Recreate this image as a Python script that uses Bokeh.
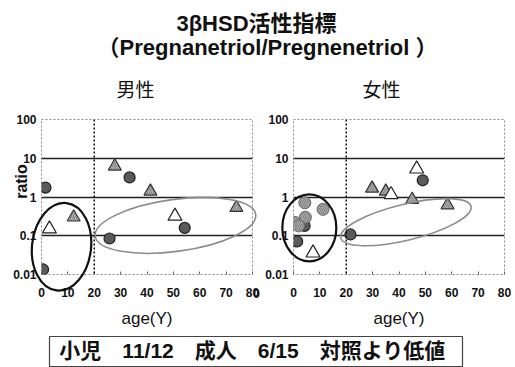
import math
from bokeh.plotting import figure
from bokeh.layouts import column, row
from bokeh.models import Label, Span, FixedTicker
from bokeh.core.properties import value
from bokeh.embed import file_html
from bokeh.resources import INLINE

# ---------------- texts ----------------
title_line1 = "3βHSD活性指標"
title_line2 = "（Pregnanetriol/Pregnenetriol ）"
panel_titles = ["男性", "女性"]
x_label = "age(Y)"
y_label = "ratio"
footer_text = "小児　11/12　成人　6/15　対照より低値"

# ---------------- axes ----------------
x_ticks = [0, 10, 20, 30, 40, 50, 60, 70, 80]
y_ticks = [0.01, 0.1, 1, 10, 100]
y_tick_labels = ["0.01", "0.1", "1", "10", "100"]
ref_lines = [0.1, 1, 10]
age_cut = 20
X_MIN, X_MAX = 0, 80
Y_MIN, Y_MAX = 0.01, 100

# ---------------- male data ----------------
male_dark_circle_age = [1.5, 0.6, 25.8, 33.4, 54.3]
male_dark_circle_ratio = [1.75, 0.0135, 0.085, 3.2, 0.16]
male_gray_circle_age = []
male_gray_circle_ratio = []
male_gray_tri_age = [12.2, 27.8, 41.3, 73.9]
male_gray_tri_ratio = [0.30, 6.2, 1.4, 0.53]
male_white_tri_age = [3.0, 50.6]
male_white_tri_ratio = [0.15, 0.32]

# ---------------- female data ----------------
female_dark_circle_age = [4.2, 1.4, 21.6, 49.0]
female_dark_circle_ratio = [0.18, 0.071, 0.108, 2.7]
female_gray_circle_age = [4.3, 11.2, 4.5, 0.6, 1.9]
female_gray_circle_ratio = [0.71, 0.48, 0.30, 0.22, 0.18]
female_gray_tri_age = [29.8, 35.0, 45.0, 58.4]
female_gray_tri_ratio = [1.67, 1.4, 0.86, 0.62]
female_white_tri_age = [7.4, 37.0, 46.7]
female_white_tri_ratio = [0.036, 1.15, 5.3]

# group ellipses: center age, center ratio
male_child_group = (7.6, 0.052)
male_adult_group = (50.8, 0.185)
female_child_group = (6.0, 0.16)
female_adult_group = (42.6, 0.224)

LATIN = "Liberation Sans"
MIXED = "Liberation Sans, Noto Sans CJK JP"


def text_label(x, y, text, font, size, style="normal", angle=0.0):
    return Label(x=x, y=y, x_units="canvas", y_units="canvas", text=text,
                 angle=angle, text_align="center", text_baseline="middle",
                 text_font=font, text_font_style=style, text_font_size=size,
                 text_color="#111", level="overlay")


def corner_text(p, ax, ay, dx, dy, text, font, size, style="normal", angle=0.0):
    # text anchored at a frame corner, shifted by pixel offsets (drawn unclipped)
    p.text(x=[ax], y=[ay], text=[text], x_offset=dx, y_offset=dy, angle=angle,
           text_align="center", text_baseline="middle",
           text_font=value(font), text_font_style=style, text_font_size=size,
           text_color="#111", level="overlay")


def make_panel(title, width, b_left, b_right, dark, gray_c, gray_t, white_t,
               child, adult, child_shape, adult_shape, title_dx):
    p = figure(width=width, height=255, x_range=(X_MIN, X_MAX), y_range=(Y_MIN, Y_MAX),
               y_axis_type="log", output_backend="svg", toolbar_location=None,
               min_border_left=b_left, min_border_right=b_right,
               min_border_top=44, min_border_bottom=52)
    p.background_fill_color = "white"
    p.border_fill_color = "white"
    p.outline_line_color = "#8a8a8a"
    p.outline_line_dash = "2 2"
    p.outline_line_width = 1

    p.xaxis.ticker = FixedTicker(ticks=x_ticks)
    p.yaxis.ticker = FixedTicker(ticks=y_ticks)
    p.yaxis.major_label_overrides = dict(zip(y_ticks, y_tick_labels))
    for ax in (p.xaxis[0], p.yaxis[0]):
        ax.axis_line_color = None
        ax.minor_tick_line_color = None
        ax.major_label_text_font = LATIN
        ax.major_label_text_font_style = "bold"
        ax.major_label_text_font_size = "12px"
        ax.major_label_text_color = "#111"
    p.xaxis.major_tick_in = 3
    p.xaxis.major_tick_out = 0
    p.xaxis.major_tick_line_color = "#666"
    p.xaxis.major_label_standoff = 13
    p.yaxis.major_tick_in = 0
    p.yaxis.major_tick_out = 0
    p.yaxis.major_label_standoff = 5
    p.xaxis.axis_label = x_label
    p.xaxis.axis_label_text_font = LATIN
    p.xaxis.axis_label_text_font_style = "normal"
    p.xaxis.axis_label_text_font_size = "17px"
    p.xaxis.axis_label_text_color = "#111"
    p.xaxis.axis_label_standoff = 9

    p.xgrid.visible = False
    p.ygrid.ticker = FixedTicker(ticks=ref_lines)
    p.ygrid.grid_line_color = "#222"
    p.ygrid.grid_line_width = 1.3

    p.add_layout(Span(location=age_cut, dimension="height", line_color="#111",
                      line_dash="2 2", line_width=1.5))

    # markers
    if dark[0]:
        p.scatter(x=dark[0], y=dark[1], marker="circle", size=11,
                  fill_color="#5a5a5a", line_color="#222", line_width=1.2)
    if gray_c[0]:
        p.scatter(x=gray_c[0], y=gray_c[1], marker="circle", size=12,
                  fill_color="#a8a8a8", line_color="#666", line_width=1,
                  hatch_pattern="right_diagonal_line", hatch_color="#777",
                  hatch_scale=4, hatch_weight=0.8)
    if gray_t[0]:
        p.scatter(x=gray_t[0], y=gray_t[1], marker="triangle", size=13,
                  fill_color="#b0b0b0", line_color="#333", line_width=1.2,
                  hatch_pattern="right_diagonal_line", hatch_color="#777",
                  hatch_scale=4, hatch_weight=0.8)
    if white_t[0]:
        p.scatter(x=white_t[0], y=white_t[1], marker="triangle", size=14,
                  fill_color="white", line_color="#222", line_width=1.2)

    # group ellipses (screen-sized)
    p.ellipse(x=[child[0]], y=[child[1]], width=child_shape[0], height=child_shape[1],
              angle=math.radians(child_shape[2]), width_units="screen",
              height_units="screen", fill_alpha=0, line_color="#111",
              line_width=2.2, level="overlay")
    p.ellipse(x=[adult[0]], y=[adult[1]], width=adult_shape[0], height=adult_shape[1],
              angle=math.radians(adult_shape[2]), width_units="screen",
              height_units="screen", fill_alpha=0, line_color="#8c8c8c",
              line_width=1.6, level="overlay")

    corner_text(p, X_MIN, Y_MAX, title_dx, -31, title, "Noto Sans CJK JP", "19px")
    return p


left = make_panel(panel_titles[0], 262, 41, 10,
                  (male_dark_circle_age, male_dark_circle_ratio),
                  (male_gray_circle_age, male_gray_circle_ratio),
                  (male_gray_tri_age, male_gray_tri_ratio),
                  (male_white_tri_age, male_white_tri_ratio),
                  male_child_group, male_adult_group,
                  (59, 88, -6.5), (162, 52, 7.7), 94)
corner_text(left, X_MIN, Y_MAX, -20, 62, y_label, LATIN, "16px", "bold", math.pi / 2)
corner_text(left, X_MAX, Y_MIN, 4, 19, "0", LATIN, "12px", "bold")

right = make_panel(panel_titles[1], 253, 30, 11,
                   (female_dark_circle_age, female_dark_circle_ratio),
                   (female_gray_circle_age, female_gray_circle_ratio),
                   (female_gray_tri_age, female_gray_tri_ratio),
                   (female_white_tri_age, female_white_tri_ratio),
                   female_child_group, female_adult_group,
                   (54, 67, 0), (134, 36, 13.6), 88)

# header
hdr = figure(width=515, height=75, x_range=(0, 1), y_range=(0, 1),
             x_axis_location=None, y_axis_location=None, output_backend="svg",
             toolbar_location=None, min_border=0)
hdr.grid.visible = False
hdr.outline_line_color = None
hdr.add_layout(text_label(256, 23, title_line1, MIXED, "22px", "bold"))
hdr.add_layout(text_label(267, 47, title_line2, MIXED, "22px", "bold"))

# footer box
ftr = figure(width=515, height=37, x_range=(0, 1), y_range=(0, 1),
             x_axis_location=None, y_axis_location=None, output_backend="svg",
             toolbar_location=None, min_border_left=49, min_border_right=53,
             min_border_top=6, min_border_bottom=0)
ftr.grid.visible = False
ftr.outline_line_color = "#444"
ftr.outline_line_width = 1.2
ftr.add_layout(text_label(252, 20, footer_text, MIXED, "21px", "bold"))

layout = column(hdr, row(left, right, spacing=0), ftr, spacing=0)
open("out.html", "w").write(file_html(layout, INLINE))
